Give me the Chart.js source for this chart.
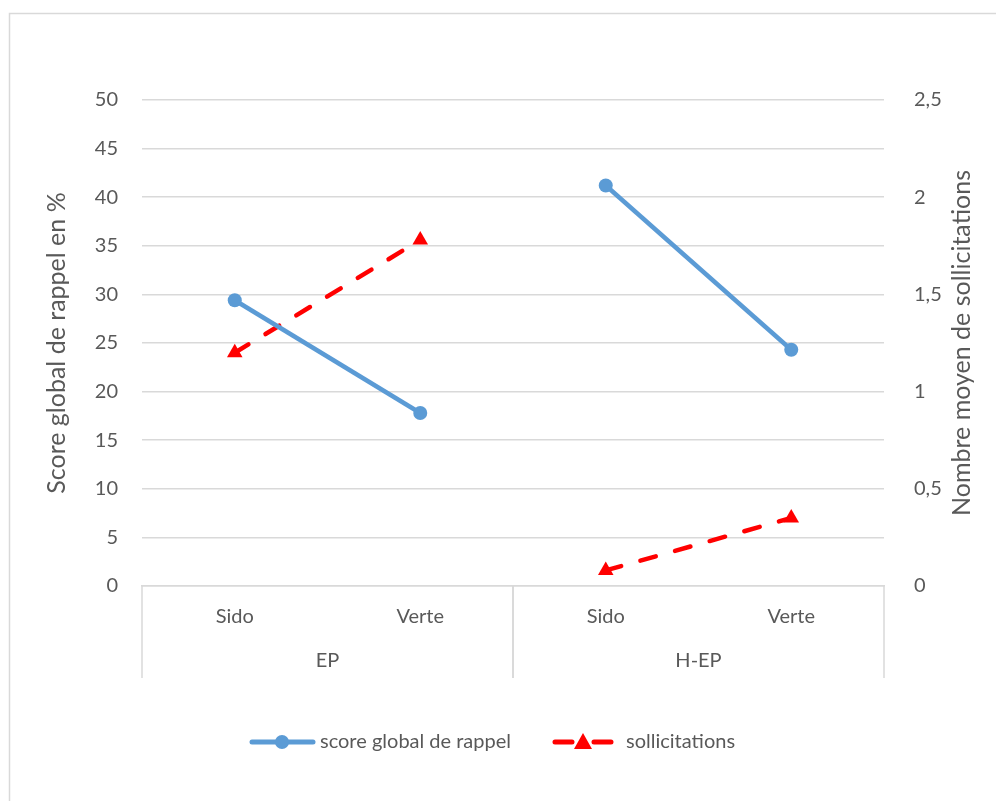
<!DOCTYPE html>
<html>
<head>
<meta charset="utf-8">
<script src="https://cdn.jsdelivr.net/npm/chart.js@4"></script>
<style>
  html, body { margin: 0; padding: 0; background: #fff; }
  #wrap { width: 996px; height: 801px; }
</style>
</head>
<body>
<div id="wrap"><canvas id="MyChart" width="996" height="801"></canvas></div>
<script>
const categories = ['Sido', 'Verte', 'Sido', 'Verte'];
const groupNames = ['EP', 'H-EP'];
const groupOf = [0, 0, 1, 1];
const score = [29.4, 17.8, 41.2, 24.3];
const sollicitations = [1.2, 1.78, 0.08, 0.35];
const leftTicks = [0, 5, 10, 15, 20, 25, 30, 35, 40, 45, 50];
const rightTicks = [0, 0.5, 1, 1.5, 2, 2.5];
const leftTitle = 'Score global de rappel en %';
const rightTitle = 'Nombre moyen de sollicitations';

const FONT = 'Lato, "Open Sans", sans-serif';
const GREY = '#595959';
const LINE = '#d9d9d9';
const BLUE = '#5b9bd5';
const RED = '#ff0000';

Chart.defaults.font.family = FONT;
Chart.defaults.font.size = 20;
Chart.defaults.color = GREY;

// hide the segment joining two different groups
function splitGroups(ctx) {
  if (groupOf[ctx.p0DataIndex] !== groupOf[ctx.p1DataIndex]) return 'transparent';
  return undefined;
}

const decor = {
  id: 'decor',
  beforeDraw(chart) {
    let c = chart.ctx;
    c.save();
    c.strokeStyle = LINE;
    c.lineWidth = 1.5;
    c.strokeRect(9.5, 13.5, 1000, 800);
    c.restore();
  },
  afterDraw(chart) {
    let c = chart.ctx;
    let x = chart.scales.x;
    let area = chart.chartArea;
    let half = (x.getPixelForTick(1) - x.getPixelForTick(0)) / 2;
    let midY = (area.top + area.bottom) / 2;
    c.save();
    c.strokeStyle = LINE;
    c.lineWidth = 1.5;
    c.fillStyle = GREY;
    c.font = '20px ' + FONT;
    c.textAlign = 'center';
    c.textBaseline = 'middle';
    for (let g = 0; g < groupNames.length; g++) {
      let idx = [];
      for (let i = 0; i < groupOf.length; i++) if (groupOf[i] === g) idx.push(i);
      let l = x.getPixelForTick(idx[0]) - half;
      let r = x.getPixelForTick(idx[idx.length - 1]) + half;
      c.beginPath();
      c.moveTo(l, area.bottom); c.lineTo(l, area.bottom + 92);
      c.moveTo(r, area.bottom); c.lineTo(r, area.bottom + 92);
      c.stroke();
      c.fillText(groupNames[g], (l + r) / 2, area.bottom + 75);
    }

    // axis titles, both read bottom to top
    c.font = '25px ' + FONT;
    [[57, leftTitle], [962, rightTitle]].forEach(function (t) {
      c.save();
      c.translate(t[0], midY);
      c.rotate(-Math.PI / 2);
      c.fillText(t[1], 0, 0);
      c.restore();
    });

    // legend
    let ly = 742;
    let ds = chart.data.datasets;
    c.font = '20px ' + FONT;
    c.textAlign = 'left';
    c.lineCap = 'round';
    c.strokeStyle = BLUE;
    c.lineWidth = 5;
    c.beginPath(); c.moveTo(252, ly); c.lineTo(313, ly); c.stroke();
    c.fillStyle = BLUE;
    c.beginPath(); c.arc(282, ly, 7, 0, Math.PI * 2); c.fill();
    c.fillStyle = GREY;
    c.fillText(ds[0].label, 320, ly);
    c.strokeStyle = RED;
    c.beginPath(); c.moveTo(555, ly); c.lineTo(572, ly); c.moveTo(594, ly); c.lineTo(611, ly); c.stroke();
    c.fillStyle = RED;
    c.beginPath(); c.moveTo(583, ly - 9); c.lineTo(592, ly + 7); c.lineTo(574, ly + 7); c.closePath(); c.fill();
    c.fillStyle = GREY;
    c.fillText(ds[1].label, 626, ly);
    c.restore();
  }
};

let data = {
  labels: categories,
  datasets: [{
    label: 'score global de rappel',
    data: score,
    yAxisID: 'y',
    borderColor: BLUE,
    backgroundColor: BLUE,
    borderWidth: 4.5,
    pointRadius: 7,
    pointHoverRadius: 7,
    pointBorderWidth: 0,
    segment: { borderColor: splitGroups }
  }, {
    label: 'sollicitations',
    data: sollicitations,
    yAxisID: 'y2',
    borderColor: RED,
    backgroundColor: RED,
    borderWidth: 4.5,
    borderDash: [16, 20],
    borderCapStyle: 'round',
    pointStyle: 'triangle',
    pointRadius: 9,
    pointHoverRadius: 9,
    pointBorderWidth: 0,
    segment: { borderColor: splitGroups }
  }]
};

let options = {
  responsive: false,
  animation: false,
  layout: { padding: { top: 100, left: 0, right: 0, bottom: 0 } },
  plugins: { legend: { display: false }, tooltip: { enabled: false } },
  scales: {
    x: {
      offset: true,
      grid: { display: false },
      border: { color: LINE, width: 1.5 },
      ticks: { padding: 11 },
      afterFit(s) { s.height = 215; }
    },
    y: {
      position: 'left',
      min: 0, max: 50,
      afterBuildTicks(s) { s.ticks = leftTicks.map(v => ({ value: v })); },
      grid: { color: LINE, lineWidth: 1.5, drawTicks: false },
      border: { display: false },
      ticks: { padding: 24 },
      afterFit(s) { s.width = 142; }
    },
    y2: {
      position: 'right',
      min: 0, max: 2.5,
      afterBuildTicks(s) { s.ticks = rightTicks.map(v => ({ value: v })); },
      grid: { display: false },
      border: { display: false },
      ticks: { padding: 22, callback: v => String(v).replace('.', ',') },
      afterFit(s) { s.width = 112; }
    }
  }
};

let myChart = new Chart(document.getElementById('MyChart'), {
  type: 'line',
  data: data,
  options: options,
  plugins: [decor]
});
</script>
</body>
</html>
